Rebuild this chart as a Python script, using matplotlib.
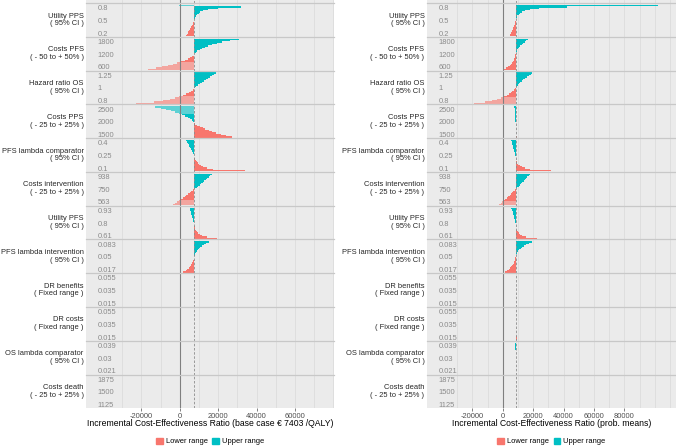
import matplotlib
matplotlib.use("Agg")
import matplotlib.pyplot as plt
from matplotlib.patches import Patch

plt.rcParams["font.family"] = ["Liberation Sans", "DejaVu Sans"]

# ── Data (ICER in thousands; lower: bottom -> middle, upper: middle -> top) ──
facet_labels = [
    "Utility PPS\n( 95% CI )", "Costs PFS\n( - 50 to + 50% )",
    "Hazard ratio OS\n( 95% CI )", "Costs PPS\n( - 25 to + 25% )",
    "PFS lambda comparator\n( 95% CI )", "Costs intervention\n( - 25 to + 25% )",
    "Utility PFS\n( 95% CI )", "PFS lambda intervention\n( 95% CI )",
    "DR benefits\n( Fixed range )", "DR costs\n( Fixed range )",
    "OS lambda comparator\n( 95% CI )", "Costs death\n( - 25 to + 25% )",
]
tick_labels = [
    ("0.2", "0.5", "0.8"), ("600", "1200", "1800"), ("0.8", "1", "1.25"),
    ("1500", "2000", "2500"), ("0.1", "0.25", "0.4"), ("563", "750", "938"),
    ("0.61", "0.8", "0.93"), ("0.017", "0.05", "0.083"),
    ("0.015", "0.035", "0.055"), ("0.015", "0.035", "0.055"),
    ("0.021", "0.03", "0.039"), ("1125", "1500", "1875"),
]
base_case = [7403, 8500]

base_lower = [
    [3.3, 3.7, 4.1, 4.5, 4.9, 5.3, 5.7, 6.1, 6.5, 6.8, 7.1, 7.3],
    [-16.7, -12.5, -9.0, -6.0, -3.5, -1.3, 0.8, 2.6, 4.1, 5.3, 6.4, 7.2],
    [-22.8, -13.5, -8.5, -5.0, -2.3, -0.2, 1.9, 3.5, 4.8, 5.9, 6.7, 7.2],
    [27.1, 24.0, 21.3, 19.0, 17.0, 15.1, 13.4, 11.9, 10.5, 9.2, 8.2, 7.6],
    [34.0, 17.5, 14.0, 12.2, 11.0, 10.1, 9.4, 8.8, 8.3, 7.9, 7.6, 7.45],
    [-3.3, -2.3, -1.3, -0.3, 0.7, 1.7, 2.6, 3.5, 4.4, 5.3, 6.1, 6.9],
    [19.6, 14.0, 11.8, 10.5, 9.6, 9.0, 8.5, 8.1, 7.9, 7.7, 7.55, 7.45],
    [1.9, 3.0, 3.9, 4.6, 5.2, 5.7, 6.1, 6.5, 6.8, 7.0, 7.2, 7.35],
    [7.40, 7.40, 7.40],
    [7.40, 7.40, 7.40],
    [7.40, 7.40, 7.40],
    [7.40, 7.40, 7.40],
]
base_upper = [
    [7.5, 7.7, 8.0, 8.4, 9.0, 9.8, 10.8, 12.2, 14.5, 19.8, 32.0, -0.3],
    [7.6, 8.3, 9.2, 10.3, 11.6, 13.0, 14.8, 16.8, 19.2, 22.2, 26.0, 31.1],
    [7.8, 8.7, 9.6, 10.6, 11.6, 12.6, 13.6, 14.6, 15.6, 16.6, 17.7, 19.0],
    [7.1, 6.4, 5.4, 4.2, 2.8, 1.3, -0.4, -2.3, -4.5, -7.0, -9.8, -12.9],
    [7.3, 7.0, 6.7, 6.4, 6.1, 5.8, 5.4, 5.0, 4.6, 4.2, 3.8, 3.3],
    [7.9, 8.8, 9.6, 10.4, 11.2, 12.0, 12.8, 13.6, 14.4, 15.2, 16.0, 17.0],
    [7.3, 7.1, 6.9, 6.7, 6.5, 6.3, 6.1, 5.9, 5.7, 5.5, 5.3, 5.1],
    [7.5, 7.7, 8.0, 8.4, 8.8, 9.3, 9.9, 10.6, 11.5, 12.6, 13.9, 15.4],
    [7.40, 7.40, 7.40],
    [7.40, 7.40, 7.40],
    [7.40, 7.40, 7.40],
    [7.40, 7.40, 7.40],
]
prob_lower = [
    [4.6, 5.0, 5.4, 5.8, 6.2, 6.5, 6.9, 7.2, 7.5, 7.8, 8.0, 8.3],
    [0.2, 2.3, 3.8, 4.9, 5.7, 6.3, 6.8, 7.2, 7.5, 7.8, 8.0, 8.3],
    [-19.2, -11.5, -7.0, -3.8, -1.4, 0.7, 2.5, 4.0, 5.3, 6.4, 7.3, 8.0],
    [9.2, 9.0, 8.9, 8.8, 8.7, 8.6, 8.6, 8.6, 8.5, 8.5, 8.5, 8.5],
    [32.1, 18.0, 14.5, 12.5, 11.2, 10.3, 9.7, 9.2, 8.9, 8.7, 8.6, 8.5],
    [-2.2, -1.2, -0.2, 0.8, 1.8, 2.8, 3.7, 4.6, 5.5, 6.3, 7.1, 7.8],
    [22.6, 15.5, 13.0, 11.6, 10.6, 9.9, 9.4, 9.0, 8.8, 8.7, 8.6, 8.5],
    [1.6, 2.9, 4.0, 4.9, 5.6, 6.2, 6.7, 7.2, 7.6, 7.9, 8.1, 8.3],
    [8.5, 8.5, 8.5, 8.5],
    [9.1, 9.0, 8.8, 8.6],
    [8.8, 8.7, 8.6, 8.5],
    [9.0, 8.9, 8.7, 8.6],
]
prob_upper = [
    [8.6, 8.8, 9.2, 9.7, 10.4, 11.3, 12.7, 14.8, 18.0, 24.0, 42.1, 102.2],
    [8.6, 8.8, 9.1, 9.6, 10.2, 10.9, 11.7, 12.6, 13.6, 14.6, 15.6, 16.6],
    [8.7, 9.2, 10.0, 10.8, 11.7, 12.6, 13.6, 14.7, 15.9, 17.1, 18.3, 19.6],
    [8.4, 8.3, 8.2, 8.2, 8.1, 8.1, 8.0, 8.0, 7.9, 7.9, 7.8, 7.7],
    [8.2, 8.0, 7.8, 7.5, 7.3, 7.0, 6.8, 6.5, 6.3, 6.0, 5.8, 5.5],
    [8.9, 9.7, 10.5, 11.3, 12.1, 12.9, 13.7, 14.5, 15.3, 16.1, 17.0, 18.0],
    [8.2, 8.0, 7.8, 7.6, 7.4, 7.2, 6.9, 6.7, 6.5, 6.3, 6.0, 5.7],
    [8.6, 8.8, 9.2, 9.7, 10.3, 11.0, 11.9, 12.9, 14.1, 15.5, 17.4, 19.6],
    [8.5, 8.5, 8.5, 8.5],
    [8.6, 8.7, 8.8, 8.9],
    [8.5, 8.5, 8.4, 8.4],
    [8.6, 8.7, 8.7, 8.8],
]

# ── Styling / layout (pixels) ───────────────────────────────────────────────
W, H = 676, 446
TOP, BOTTOM = 3.0, 408.3
FH = (BOTTOM - TOP) / len(facet_labels)
BG = "#EBEBEB"
RED, TEAL = "#F8766D", "#00BFC4"
RED_L, TEAL_L = "#F3A59F", "#5ED1D4"
FS = 5.45

fig = plt.figure(figsize=(W / 100, H / 100), dpi=100)


def px_rect(x0, y0, x1, y1):
    return [x0 / W, 1 - y1 / H, (x1 - x0) / W, (y1 - y0) / H]


def style(ax, xlim, base, grid):
    ax.set_facecolor(BG)
    ax.set_xlim(xlim)
    for s in ax.spines.values():
        s.set_visible(False)
    ax.set_yticks([])
    ax.set_xticks([])
    for g in grid:
        ax.axvline(g, color="#D9D9D9", lw=0.5, zorder=0)
    ax.axvline(0, color="#7F7F7F", lw=0.8, zorder=3)
    ax.axvline(base, color="#8C8C8C", lw=0.6, ls=(0, (3, 2)), zorder=3)


def panel(x0, x1, xlim, base, lower, upper, xticks, grid, title):
    cx = (x0 + x1) / 2
    ax = fig.add_axes(px_rect(x0, 0, x1, TOP))
    style(ax, xlim, base, grid)
    for i, label in enumerate(facet_labels):
        y0 = TOP + i * FH
        ax = fig.add_axes(px_rect(x0, y0, x1, y0 + FH))
        style(ax, xlim, base, grid)
        ax.set_ylim(-0.03, 2.12)
        lo = [v * 1000 for v in lower[i]]
        up = [v * 1000 for v in upper[i]]
        nl, nu = len(lo), len(up)
        ax.barh([j / nl for j in range(nl)], [v - base for v in lo], left=base,
                height=1 / nl, align="edge", lw=0, zorder=2,
                color=[RED_L if v < 0 else RED for v in lo])
        ax.barh([1 + j / nu for j in range(nu)], [v - base for v in up], left=base,
                height=1 / nu, align="edge", lw=0, zorder=2,
                color=[TEAL_L if v < 0 else TEAL for v in up])
        for frac, lab in zip((0.11, 0.485, 0.86), tick_labels[i]):
            ax.text(11.5 / (x1 - x0), frac, lab, transform=ax.transAxes,
                    ha="left", va="center_baseline", fontsize=FS, color="#8A8A8A")
        ax.axhline(2.12, color="#C8C8C8", lw=0.9, zorder=4, clip_on=False)
        fig.text((x0 - 2.5) / W, 1 - (y0 + FH / 2) / H, label, ha="right",
                 va="center", multialignment="right", fontsize=FS,
                 color="#262626", linespacing=1.15)
        if i == len(facet_labels) - 1:
            ax.set_xticks(xticks)
            ax.set_xticklabels([str(t) for t in xticks])
            ax.tick_params(axis="x", labelsize=FS, colors="#4D4D4D", length=2,
                           width=0.5, pad=1.5)
    fig.text(cx / W, 1 - 423.3 / H, title, ha="center", va="center",
             fontsize=6.2, color="black")
    handles = [Patch(color=RED, label="Lower range"),
               Patch(color=TEAL, label="Upper range")]
    fig.legend(handles=handles, loc="center", bbox_to_anchor=(cx / W, 1 - 441.5 / H),
               ncol=2, frameon=False, fontsize=FS, handlelength=0.9,
               handleheight=0.9, columnspacing=0.6, handletextpad=0.4,
               borderaxespad=0, borderpad=0)


panel(86, 334, (-48800, 80300), base_case[0], base_lower, base_upper,
      [-20000, 0, 20000, 40000, 60000], range(-30000, 80001, 10000),
      "Incremental Cost-Effectiveness Ratio (base case € 7403 /QALY)")
panel(427, 676, (-49800, 114000), base_case[1], prob_lower, prob_upper,
      [-20000, 0, 20000, 40000, 60000, 80000], range(-30000, 110001, 10000),
      "Incremental Cost-Effectiveness Ratio (prob. means)")

fig.savefig("out.png", dpi=100, facecolor="white")
